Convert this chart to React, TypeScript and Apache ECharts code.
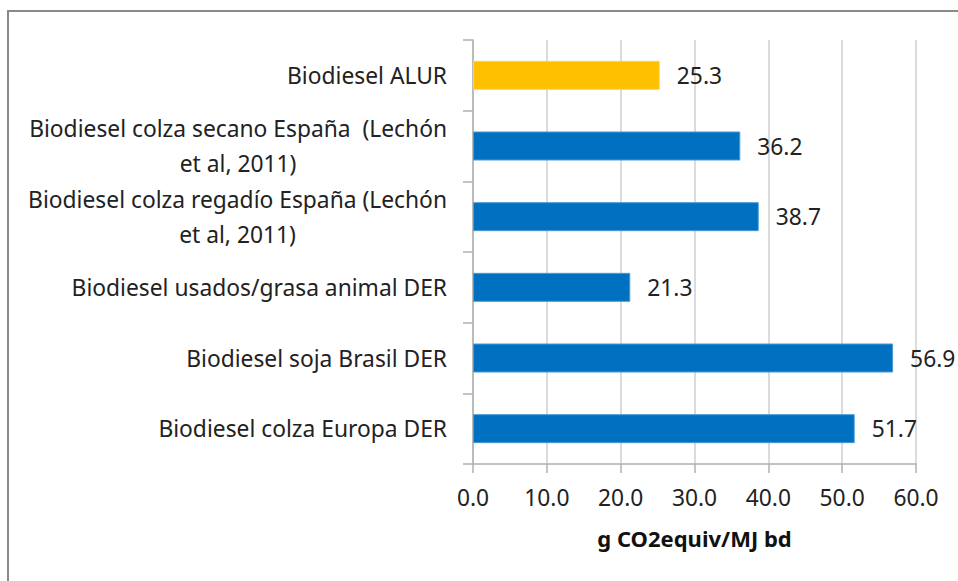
import React, { useEffect, useRef } from "react";
import * as echarts from "echarts";

const categories: string[] = [
  "Biodiesel ALUR",
  "Biodiesel colza secano España  (Lechón\net al, 2011)",
  "Biodiesel colza regadío España (Lechón\net al, 2011)",
  "Biodiesel usados/grasa animal DER",
  "Biodiesel soja Brasil DER",
  "Biodiesel colza Europa DER",
];
const values: number[] = [25.3, 36.2, 38.7, 21.3, 56.9, 51.7];
const highlighted: boolean[] = [true, false, false, false, false, false];
const axisTitle = "g CO2equiv/MJ bd";

const FONT = "Noto Sans";
const FS = 22.8;

export default function App() {
  const ref = useRef<HTMLDivElement>(null);
  useEffect(() => {
    if (!ref.current) return;
    const chart = echarts.init(ref.current, undefined, { renderer: "svg" });
    chart.setOption({
      animation: false,
      backgroundColor: "#ffffff",
      textStyle: { fontFamily: FONT },
      graphic: [
        {
          type: "rect",
          shape: { x: 8, y: 11, width: 980, height: 600 },
          style: { fill: "none", stroke: "#898989", lineWidth: 2 },
          silent: true,
        },
      ],
      grid: { left: 473, top: 40, width: 443, height: 424, containLabel: false },
      xAxis: {
        type: "value",
        min: 0,
        max: 60,
        interval: 10,
        name: axisTitle,
        nameLocation: "middle",
        nameGap: 63,
        nameTextStyle: { fontFamily: FONT, fontSize: 22, fontWeight: "bold", color: "#111" },
        axisLine: { show: true, lineStyle: { color: "#b0b0b0", width: 1.5 } },
        axisTick: { show: true, length: 9, lineStyle: { color: "#b0b0b0", width: 1.5 } },
        axisLabel: {
          margin: 22,
          fontFamily: FONT,
          fontSize: FS,
          color: "#222",
          formatter: (v: number) => v.toFixed(1),
        },
        splitLine: { show: true, lineStyle: { color: "#cfcfcf", width: 1.5 } },
      },
      yAxis: {
        type: "category",
        inverse: true,
        data: categories,
        axisLine: { show: true, lineStyle: { color: "#b0b0b0", width: 1.5 } },
        axisTick: { show: true, length: 10, lineStyle: { color: "#b0b0b0", width: 1.5 } },
        axisLabel: {
          margin: 26,
          fontFamily: FONT,
          fontSize: FS,
          color: "#222",
          lineHeight: 35,
          formatter: (v: string) =>
            v
              .split("\n")
              .map((l) => `{c|${l}}`)
              .join("\n"),
          rich: {
            c: { align: "center", fontFamily: FONT, fontSize: FS, color: "#222", lineHeight: 35 },
          },
        },
        splitLine: { show: false },
      },
      series: [
        {
          type: "bar",
          barWidth: 29,
          data: values.map((v, i) => ({
            value: v,
            itemStyle: {
              color: highlighted[i] ? "#FFC000" : "#0070C0",
              borderColor: highlighted[i] ? "#FFD54F" : "#4a9ad6",
              borderWidth: 1,
            },
          })),
          label: {
            show: true,
            position: "right",
            distance: 17,
            fontFamily: FONT,
            fontSize: FS,
            color: "#222",
            formatter: (p: any) => Number(p.value).toFixed(1),
          },
        },
      ],
    });
    return () => chart.dispose();
  }, []);
  return (
    <div
      ref={ref}
      style={{ position: "absolute", left: 0, top: 0, width: 958, height: 581 }}
    />
  );
}
